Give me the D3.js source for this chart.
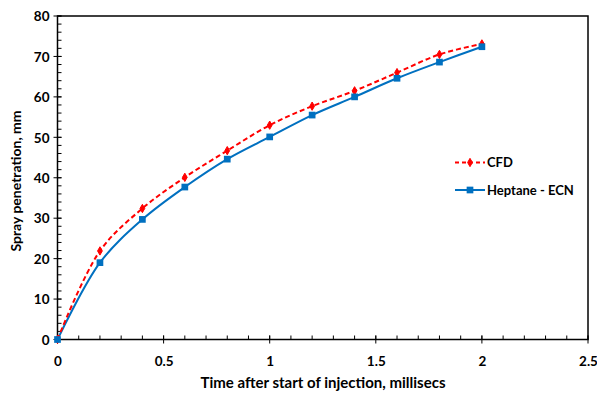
<!DOCTYPE html>
<html><head><meta charset="utf-8">
<script src="https://cdn.jsdelivr.net/npm/d3@7"></script>
<style>body{margin:0;background:#fff}svg{display:block}text{font-family:Lato,"Open Sans",sans-serif;font-weight:bold;fill:#000}</style>
</head><body><svg id="c" width="597" height="395"></svg>
<script>
const times = [0, 0.2, 0.4, 0.6, 0.8, 1.0, 1.2, 1.4, 1.6, 1.8, 2.0];
const cfd = [0, 21.9, 32.4, 40.1, 46.7, 53.0, 57.7, 61.5, 66.0, 70.5, 73.1];
const heptane = [0, 19.0, 29.7, 37.7, 44.6, 50.1, 55.5, 60.0, 64.6, 68.6, 72.4];
const xTicks = [0, 0.5, 1, 1.5, 2, 2.5];
const yTicks = [0, 10, 20, 30, 40, 50, 60, 70, 80];
const seriesNames = ["CFD", "Heptane - ECN"];
const xTitle = "Time after start of injection, millisecs";
const yTitle = "Spray penetration, mm";

const svg = d3.select("#c");
const L = 57.5, R = 588, T = 16, B = 339.5;
const x = d3.scaleLinear().domain([0, 2.5]).range([L, R]);
const y = d3.scaleLinear().domain([0, 80]).range([B, T]);

svg.append("rect").attr("x", L).attr("y", T).attr("width", R - L).attr("height", B - T)
  .attr("fill", "none").attr("stroke", "#000").attr("stroke-width", 1.5);

const xMinor = d3.range(0, 2.5001, 0.1);
svg.append("g").selectAll("line").data(xMinor).join("line")
  .attr("x1", d => x(d)).attr("x2", d => x(d)).attr("y1", B).attr("y2", B - 4)
  .attr("stroke", "#000").attr("stroke-width", 1);
const xAxis = d3.axisBottom(x).tickValues(xTicks).tickSize(0).tickFormat(d => d);
const gx = svg.append("g").attr("transform", `translate(0,${B})`).call(xAxis);
gx.select(".domain").remove();
gx.selectAll("text").attr("dy", 0).attr("y", 26).style("font-size", "13.5px").style("font-family", "Lato");
svg.append("g").selectAll("line").data(xTicks).join("line")
  .attr("x1", d => x(d)).attr("x2", d => x(d)).attr("y1", B - 4).attr("y2", B + 4)
  .attr("stroke", "#000").attr("stroke-width", 1);

const yMinor = d3.range(0, 80.001, 2);
svg.append("g").selectAll("line").data(yMinor).join("line")
  .attr("x1", L).attr("x2", L + 4).attr("y1", d => y(d)).attr("y2", d => y(d))
  .attr("stroke", "#000").attr("stroke-width", 1);
const yAxis = d3.axisLeft(y).tickValues(yTicks).tickSize(0).tickFormat(d => d);
const gy = svg.append("g").attr("transform", `translate(${L},0)`).call(yAxis);
gy.select(".domain").remove();
gy.selectAll("text").attr("x", -8).attr("dy", "0.35em").style("font-size", "13.5px").style("font-family", "Lato");
svg.append("g").selectAll("line").data(yTicks).join("line")
  .attr("x1", L - 4).attr("x2", L + 4).attr("y1", d => y(d)).attr("y2", d => y(d))
  .attr("stroke", "#000").attr("stroke-width", 1);

svg.append("text").attr("x", (204 + 442) / 2).attr("y", 388).attr("text-anchor", "middle")
  .style("font-size", "15px").text(xTitle);
svg.append("text").attr("transform", `translate(21,181) rotate(-90)`).attr("text-anchor", "middle")
  .style("font-size", "14px").text(yTitle);

const line = d3.line().x(d => x(d[0])).y(d => y(d[1])).curve(d3.curveCatmullRom.alpha(0.5));
const cfdPts = times.map((t, i) => [t, cfd[i]]);
const hepPts = times.map((t, i) => [t, heptane[i]]);
const red = "#FF0000", blue = "#0070C0";

svg.append("path").attr("d", line(hepPts)).attr("fill", "none").attr("stroke", blue).attr("stroke-width", 2);
svg.append("path").attr("d", line(cfdPts)).attr("fill", "none").attr("stroke", red).attr("stroke-width", 2)
  .attr("stroke-dasharray", "5,3");

const diamond = d3.symbol().type(d3.symbolDiamond).size(20);
const square = d3.symbol().type(d3.symbolSquare).size(45);
svg.append("g").selectAll("path").data(cfdPts).join("path")
  .attr("transform", d => `translate(${x(d[0])},${y(d[1])})`).attr("d", diamond).attr("fill", red)
  .attr("stroke", red).attr("stroke-width", 1);
svg.append("g").selectAll("path").data(hepPts).join("path")
  .attr("transform", d => `translate(${x(d[0])},${y(d[1])})`).attr("d", square).attr("fill", blue);

const lg = svg.append("g");
lg.append("line").attr("x1", 455).attr("x2", 485).attr("y1", 162.5).attr("y2", 162.5)
  .attr("stroke", red).attr("stroke-width", 2).attr("stroke-dasharray", "4,3");
lg.append("path").attr("transform", "translate(470,162.5)").attr("d", diamond).attr("fill", red)
  .attr("stroke", red).attr("stroke-width", 1);
lg.append("text").attr("x", 487).attr("y", 162.5).attr("dy", "0.35em").style("font-size", "13px").text(seriesNames[0]);
lg.append("line").attr("x1", 455).attr("x2", 485).attr("y1", 190).attr("y2", 190)
  .attr("stroke", blue).attr("stroke-width", 2);
lg.append("path").attr("transform", "translate(470,190)").attr("d", square).attr("fill", blue);
lg.append("text").attr("x", 487).attr("y", 190).attr("dy", "0.35em").style("font-size", "13px").text(seriesNames[1]);
</script></body></html>
